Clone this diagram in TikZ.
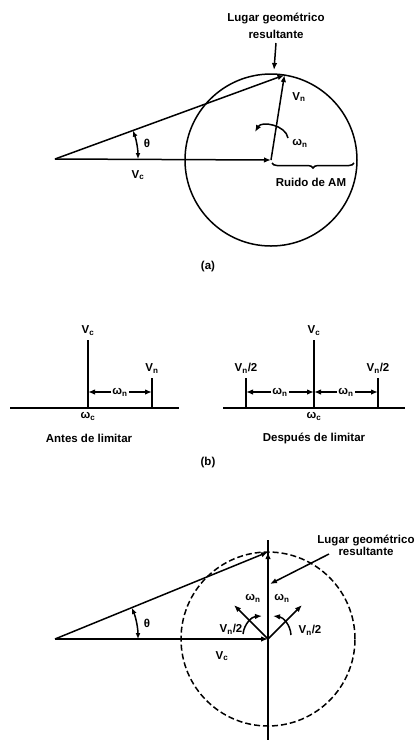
\documentclass[tikz,border=0pt]{standalone}
\usepackage{fontspec}
\setmainfont{Liberation Sans}
\usepackage{tikz}
\usetikzlibrary{arrows.meta,positioning,calc,decorations.pathreplacing}
\newcommand{\Vsub}[1]{V\textsubscript{#1}}
\newcommand{\wsub}[1]{ω\textsubscript{#1}}

\begin{document}
\begin{tikzpicture}[
  x=1pt, y=1pt,
  every node/.style={font=\fontsize{11.5}{13}\selectfont\bfseries, inner sep=1pt, align=center},
  vec/.style={-{Latex[length=7pt,width=5.5pt]}, line width=1.5pt},
  dvec/.style={{Latex[length=6pt,width=5pt]}-{Latex[length=6pt,width=5pt]}, line width=1.5pt},
  stem/.style={line width=2.6pt},
  base/.style={line width=1.8pt},
  locus/.style={line width=1.5pt, dash pattern=on 6pt off 3pt},
]
  \useasboundingbox (0,0) rectangle (415,-740);

  % (a)
  \coordinate (oa) at (55,-159);
  \coordinate (ca) at (271,-160);
  \coordinate (na) at ($(ca)+(81:86)$);
  \coordinate (ta) at (274,-70);
  \draw[line width=1.5pt] (ca) circle[radius=86];
  \draw[vec] (oa) -- (ca);
  \draw[vec] (ca) -- (na);
  \draw[vec] (oa) -- (na);
  \draw[dvec] ($(oa)+(0:83)$) arc[start angle=0, end angle=20, radius=83];
  \node (tha) at (147,-143) {θ};
  \node (vca) at (138,-175) {\Vsub{c}};
  \node (vna) at (299,-97) {\Vsub{n}};
  \coordinate (wa1) at (288,-138);
  \coordinate (wa2) at (255,-132);
  \draw[vec] (wa1) to[bend right=70] (wa2);
  \node (wna) at (300,-143) {\wsub{n}};
  \coordinate (ba1) at (272,-163);
  \coordinate (ba2) at (354,-163);
  \draw[line width=1.5pt, decorate, decoration={brace, mirror, amplitude=5pt}] (ba1) -- (ba2);
  \node (ra) at (311,-182) {Ruido de AM};
  \node[font=\fontsize{11.5}{17}\selectfont\bfseries] (lga) at (276,-26) {Lugar geométrico\\resultante};
  \draw[vec] (lga.south |- 0,-43) -- (ta);
  \node (capa) at (208,-267) {(a)};

  % (b)
  \coordinate (bl1) at (10,-408);
  \coordinate (bl2) at (179,-408);
  \coordinate (cb1) at (88,-408);
  \coordinate (nb1) at (152,-408);
  \draw[base] (bl1) -- (bl2);
  \draw[stem] (cb1) -- ++(0,68) node[above=2pt] (vcb1) {\Vsub{c}};
  \draw[stem] (nb1) -- ++(0,30) node[above=2pt] (vnb1) {\Vsub{n}};
  \node (wb1) at (120,-392) {\wsub{n}};
  \draw[vec] (wb1.west) -- (wb1.west -| cb1);
  \draw[vec] (wb1.east) -- (wb1.east -| nb1);
  \node[below=3pt of cb1] (wcb1) {\wsub{c}};
  \node (antes) at (89,-438) {Antes de limitar};

  \coordinate (br1) at (223,-408);
  \coordinate (br2) at (405,-408);
  \coordinate (cb2) at (314,-408);
  \coordinate (lb2) at (246,-408);
  \coordinate (rb2) at (378,-408);
  \draw[base] (br1) -- (br2);
  \draw[stem] (cb2) -- ++(0,68) node[above=2pt] (vcb2) {\Vsub{c}};
  \draw[stem] (lb2) -- ++(0,30) node[above=2pt] (vlb2) {\Vsub{n}/2};
  \draw[stem] (rb2) -- ++(0,30) node[above=2pt] (vrb2) {\Vsub{n}/2};
  \node (wb2) at (280,-392) {\wsub{n}};
  \node (wb3) at (346,-392) {\wsub{n}};
  \draw[vec] (wb2.west) -- (wb2.west -| lb2);
  \draw[vec] (wb2.east) -- (wb2.east -| cb2);
  \draw[vec] (wb3.west) -- (wb3.west -| cb2);
  \draw[vec] (wb3.east) -- (wb3.east -| rb2);
  \node[below=3pt of cb2] (wcb2) {\wsub{c}};
  \node (despues) at (314,-438) {Después de limitar};
  \node (capb) at (208,-463) {(b)};

  % (c)
  \coordinate (oc) at (55,-639);
  \coordinate (cc) at (268,-639);
  \coordinate (tc) at (268,-552);
  \coordinate (ax1) at (268,-540);
  \coordinate (ax2) at (268,-740);
  \draw[locus] (cc) circle[radius=87];
  \draw[line width=1.5pt] (ax1) -- (ax2);
  \draw[vec] (oc) -- (cc);
  \draw[vec] (cc) -- (tc);
  \draw[vec] (oc) -- (tc);
  \draw[vec] (cc) -- ++(135:48) coordinate (lnc);
  \draw[vec] (cc) -- ++(45:48) coordinate (rnc);
  \draw[dvec] ($(oc)+(0:83)$) arc[start angle=0, end angle=22, radius=83];
  \node (thc) at (147,-623) {θ};
  \node (vcc) at (222,-656) {\Vsub{c}};
  \coordinate (lw1) at (243,-634);
  \coordinate (lw2) at (262,-616);
  \coordinate (rw1) at (291,-635);
  \coordinate (rw2) at (273,-616);
  \draw[vec] (lw1) to[bend left=40] (lw2);
  \draw[vec] (rw1) to[bend right=40] (rw2);
  \node (wlc) at (253,-598) {\wsub{n}};
  \node (wrc) at (282,-598) {\wsub{n}};
  \node (vlc) at (231,-629) {\Vsub{n}/2};
  \node (vrc) at (310,-630) {\Vsub{n}/2};
  \node[font=\fontsize{11.5}{12}\selectfont\bfseries] (lgc) at (366,-545) {Lugar geométrico\\resultante};
  \coordinate (sc) at (329,-554);
  \coordinate (ec) at (270,-584);
  \draw[vec] (sc) -- (ec);
\end{tikzpicture}
\end{document}
